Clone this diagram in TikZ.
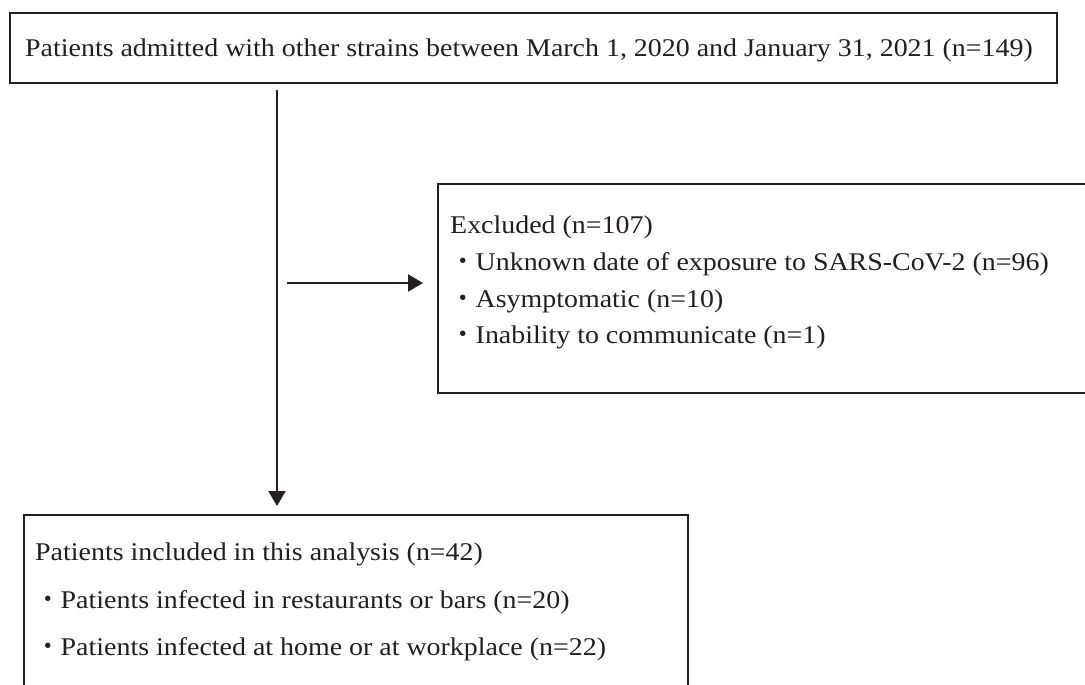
\documentclass[tikz,border=0pt]{standalone}
\usepackage{fontspec}
\setmainfont{Liberation Serif}[FakeStretch=1.095]
\newfontfamily\cjk{Noto Sans CJK JP}
\usetikzlibrary{arrows.meta}
\definecolor{ink}{RGB}{35,31,32}

\begin{document}
\begin{tikzpicture}[x=1pt,y=-1pt]
      \clip (0,0) rectangle (1085,685);

      \begin{scope}[every node/.style={rectangle, draw=ink, line width=1.8pt, inner sep=0pt, anchor=north west}]
        \node [minimum width=1047pt, minimum height=70pt] (admitted) at (9,12) {};
        \node [minimum width=700pt, minimum height=209pt] (excluded) at (437,183) {};
        \node [minimum width=664pt, minimum height=220pt] (included) at (23,514) {};
      \end{scope}

      \begin{scope}[every node/.style={anchor=base west, inner sep=0pt, text=ink, font=\fontsize{25.5}{30}\selectfont}]
        \node (t0) at (25,57) {Patients admitted with other strains between March 1, 2020 and January 31, 2021 (n=149)};
        \node (e0) at (450,233) {Excluded (n=107)};
        \node (e1) at (450,270) {{\cjk ・}Unknown date of exposure to SARS-CoV-2 (n=96)};
        \node (e2) at (450,307) {{\cjk ・}Asymptomatic (n=10)};
        \node (e3) at (450,343) {{\cjk ・}Inability to communicate (n=1)};
        \node (i0) at (35,560) {Patients included in this analysis (n=42)};
        \node (i1) at (35,608) {{\cjk ・}Patients infected in restaurants or bars (n=20)};
        \node (i2) at (35,655) {{\cjk ・}Patients infected at home or at workplace (n=22)};
      \end{scope}

      \coordinate (split) at (277,283);
      \coordinate (branch) at (287,283);

      \begin{scope}[-{Triangle[length=15pt,width=17pt]}, draw=ink, line width=2pt]
        \draw [shorten <=6pt, shorten >=8pt] (admitted.south -| split) to (included.north -| split);
        \draw [shorten >=14pt] (branch) to (excluded.west |- branch);
      \end{scope}
   \end{tikzpicture}
\end{document}
